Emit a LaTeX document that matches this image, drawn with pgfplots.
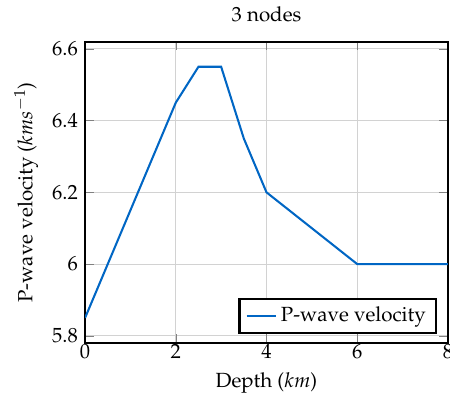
\documentclass[border={3.5pt 0pt 1pt 0pt}]{standalone}
\usepackage[T1]{fontenc}
\usepackage{mathpazo}
\usepackage{pgfplots}
\pgfplotsset{compat=1.18}
\definecolor{pblue}{RGB}{0,102,196}
\begin{document}
\begin{tikzpicture}[trim axis right]
\begin{axis}[
  scale only axis,
  width=177pt, height=147pt,
  xmin=0, xmax=8, ymin=5.78, ymax=6.62,
  xtick={0,2,4,6,8},
  ytick={5.8,6,6.2,6.4,6.6},
  yticklabels={5.8,6,6.2,6.4,6.6},
  xticklabel style={yshift=3pt},
  grid=major,
  grid style={gray!35, line width=0.5pt},
  axis line style={line width=1pt},
  title={3 nodes},
  xlabel={Depth ($km$)},
  ylabel={P-wave velocity ($kms^{-1}$)},
  legend pos=south east,
  legend style={draw=black, line width=1pt, font=\normalsize},
  legend cell align=left,
  legend image code/.code={\draw[#1] (0cm,0cm) -- (0.5cm,0cm);},
]
\addplot[pblue, line width=1pt] coordinates {
(0,5.85) (2,6.45) (2.5,6.55) (3,6.55) (3.5,6.35) (4,6.2) (6,6.0) (8,6.0)
};
\addlegendentry{P-wave velocity}
\end{axis}
\end{tikzpicture}
\end{document}
